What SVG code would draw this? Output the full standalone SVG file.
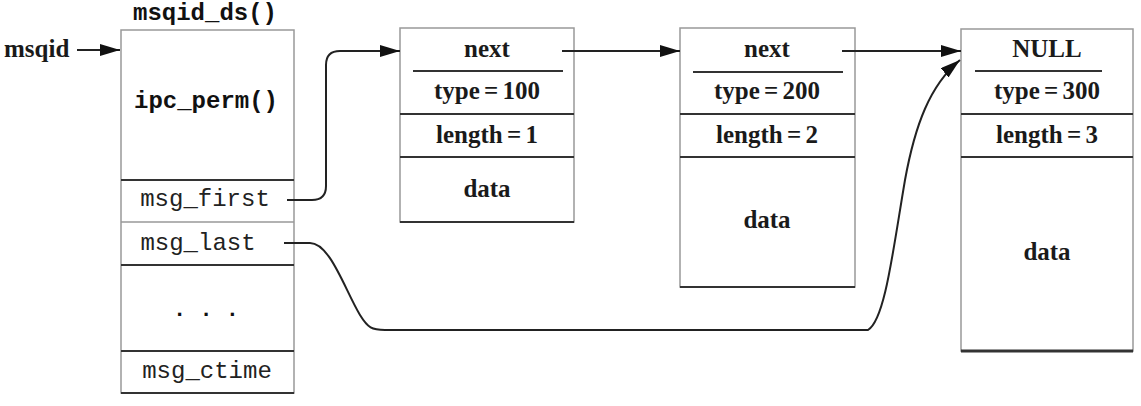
<svg xmlns="http://www.w3.org/2000/svg" width="1141" height="406" viewBox="0 0 1141 406">
<defs>
<marker id="arr" markerUnits="userSpaceOnUse" markerWidth="22" markerHeight="14" refX="20" refY="6" orient="auto">
<path d="M0,0 L20,6 L0,12 z" fill="#111"/>
</marker>
<style>
.ser{font-family:"Liberation Serif","Times New Roman",serif;font-weight:bold;font-size:25px;fill:#1a1a1a;text-anchor:middle;word-spacing:-2px}
.mono{font-family:"Liberation Mono","Courier New",monospace;font-size:24px;fill:#222;text-anchor:middle}
.monob{font-family:"Liberation Mono","Courier New",monospace;font-size:24px;font-weight:bold;fill:#111;text-anchor:middle}
.box{fill:#fff;stroke:#999;stroke-width:1.5}
.sep{stroke:#333;stroke-width:2}
.sepl{stroke:#999;stroke-width:1.5}
.con{fill:none;stroke:#222;stroke-width:2}
</style>
</defs>
<rect width="1141" height="406" fill="#fff"/>

<g id="msqid_label">
<text x="4" y="57" class="ser" style="text-anchor:start">msqid</text>
</g>

<g id="msqid_ds">
<text x="205" y="20" class="monob">msqid_ds()</text>
<rect x="121" y="30" width="173" height="363" class="box"/>
<text x="206" y="108" class="monob">ipc_perm()</text>
<line x1="121" y1="180" x2="294" y2="180" class="sep"/>
<text x="205" y="206" class="mono">msg_first</text>
<line x1="121" y1="222" x2="294" y2="222" class="sepl"/>
<text x="198" y="250" class="mono">msg_last</text>
<line x1="121" y1="265" x2="294" y2="265" class="sep"/>
<text x="206" y="316" class="monob" style="font-size:22px">. . .</text>
<line x1="121" y1="351" x2="294" y2="351" class="sep"/>
<text x="207" y="378" class="mono">msg_ctime</text>
<line x1="121" y1="393" x2="294" y2="393" class="sep"/>
</g>

<g id="msg1">
<rect x="400" y="28" width="174" height="194" class="box"/>
<text x="487" y="57" class="ser">next</text>
<line x1="413" y1="71" x2="563" y2="71" class="sep"/>
<text x="487" y="99" class="ser">type = 100</text>
<line x1="400" y1="114" x2="574" y2="114" class="sep"/>
<text x="487" y="143" class="ser">length = 1</text>
<line x1="400" y1="157" x2="574" y2="157" class="sep"/>
<text x="487" y="197" class="ser">data</text>
<line x1="400" y1="222" x2="574" y2="222" class="sep"/>
</g>

<g id="msg2">
<rect x="680" y="28" width="175" height="259" class="box"/>
<text x="767" y="57" class="ser">next</text>
<line x1="693" y1="72" x2="843" y2="72" class="sep"/>
<text x="767" y="99" class="ser">type = 200</text>
<line x1="680" y1="114" x2="855" y2="114" class="sep"/>
<text x="767" y="143" class="ser">length = 2</text>
<line x1="680" y1="157" x2="855" y2="157" class="sep"/>
<text x="767" y="228" class="ser">data</text>
<line x1="680" y1="287" x2="855" y2="287" class="sep"/>
</g>

<g id="msg3">
<rect x="961" y="29" width="172" height="322" class="box"/>
<text x="1047" y="57" class="ser">NULL</text>
<line x1="975" y1="71" x2="1102" y2="71" class="sep"/>
<text x="1047" y="99" class="ser">type = 300</text>
<line x1="961" y1="114" x2="1133" y2="114" class="sep"/>
<text x="1047" y="143" class="ser">length = 3</text>
<line x1="961" y1="157" x2="1133" y2="157" class="sep"/>
<text x="1047" y="260" class="ser">data</text>
<line x1="961" y1="351" x2="1133" y2="351" class="sep" style="stroke-width:3"/>
</g>

<g id="connectors">
<path d="M77 50 L120 50" class="con" marker-end="url(#arr)"/>
<path d="M287 200 L312 200 Q326 200 326 186 L326 65 Q326 51 340 51 L400 51" class="con" marker-end="url(#arr)"/>
<path d="M562 51 L680 51" class="con" marker-end="url(#arr)"/>
<path d="M842 51 L961 51" class="con" marker-end="url(#arr)"/>
<path d="M284 243 L310 243 C330 243 345 290 360 315 C368 328 372 330 385 330 L868 330 C885 320 893 250 905 180 C915 125 930 85 960 60" class="con" marker-end="url(#arr)"/>
</g>
</svg>
